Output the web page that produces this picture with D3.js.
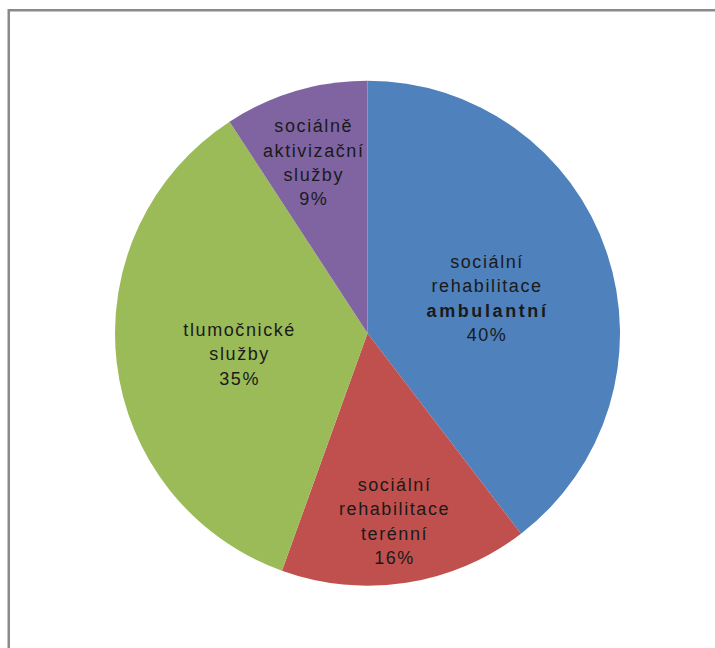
<!DOCTYPE html>
<html>
<head>
<meta charset="utf-8">
<script src="https://cdn.jsdelivr.net/npm/d3@7"></script>
<style>
  html, body { margin: 0; padding: 0; background: #fff; }
  svg { display: block; }
</style>
</head>
<body>
<svg id="chart" width="715" height="648"></svg>
<script>
// ---- data ----
const categories = [
  ["sociální", "rehabilitace", "ambulantní"],
  ["sociální", "rehabilitace", "terénní"],
  ["tlumočnické", "služby"],
  ["sociálně", "aktivizační", "služby"]
];
const boldLine = [2, -1, -1, -1];           // which name line is bold (-1 = none)
const values = [39.6, 15.9, 35.3, 9.2];
const colors = ["#4F81BD", "#C0504D", "#9BBB59", "#8064A2"];

// ---- layout ----
const W = 715, H = 648;
const cx = 367.5, cy = 333.2, R = 252.5;
const fontSize = 18, lineH = 24.4;

const svg = d3.select("#chart");

// frame
svg.append("rect")
  .attr("x", 8.75).attr("y", 10.25)
  .attr("width", 900).attr("height", 900)
  .attr("fill", "none")
  .attr("stroke", "#8a8a8a")
  .attr("stroke-width", 2.5);

const data = values.map((v, i) => ({ value: v, name: categories[i], color: colors[i], bold: boldLine[i] }));
const total = d3.sum(values);

const pie = d3.pie().sort(null).value(d => d.value);
const arcs = pie(data);
const arc = d3.arc().innerRadius(0).outerRadius(R);

const g = svg.append("g").attr("transform", `translate(${cx},${cy})`);

g.selectAll("path.slice")
  .data(arcs)
  .join("path")
  .attr("class", "slice")
  .attr("d", arc)
  .attr("fill", d => d.data.color);

const pct = d3.format(".0%");

// labels: small slices get labels pushed further out
const labelArc = d => {
  const f = d.data.value < 20 ? 0.73 : 0.505;
  return d3.arc().innerRadius(R * f).outerRadius(R * f);
};

arcs.forEach(d => {
  const [lx, ly] = labelArc(d).centroid(d);
  const lines = d.data.name.map((t, i) => ({ text: t, bold: i === d.data.bold }));
  lines.push({ text: pct(d.data.value / total), bold: false });
  const n = lines.length;
  const y0 = ly - (n - 1) / 2 * lineH + 0.35 * fontSize + 6;
  const t = g.append("text")
    .attr("text-anchor", "middle")
    .attr("font-family", "'Liberation Sans', Arial, sans-serif")
    .attr("font-size", fontSize)
    .attr("fill", "#1a1a1a");
  lines.forEach((ln, i) => {
    const ls = ln.bold ? 2.6 : 1.6;
    t.append("tspan")
      .attr("x", lx + ls / 2 - 2)
      .attr("y", y0 + i * lineH)
      .attr("font-weight", ln.bold ? "bold" : "normal")
      .style("letter-spacing", ls + "px")
      .text(ln.text);
  });
});
</script>
</body>
</html>
